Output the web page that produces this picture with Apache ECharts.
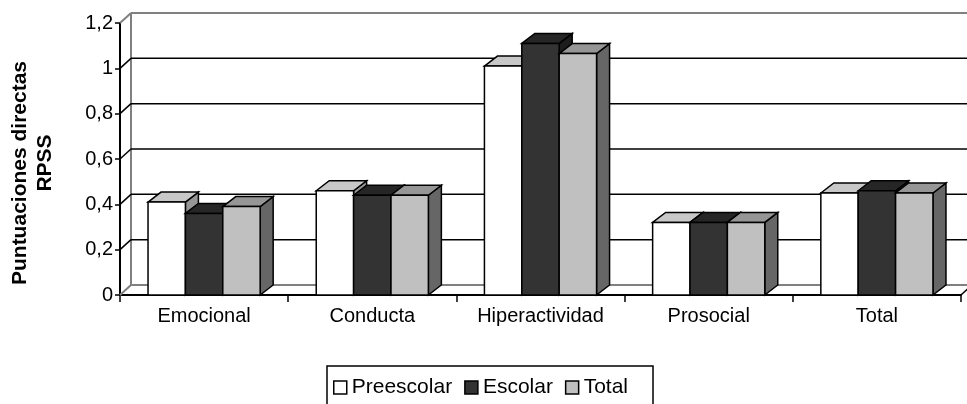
<!DOCTYPE html>
<html>
<head>
<meta charset="utf-8">
<script src="https://cdn.jsdelivr.net/npm/echarts@6/dist/echarts.min.js"></script>
<style>
  html, body { margin: 0; padding: 0; background: #fff; }
  #chart { width: 967px; height: 404px; }
</style>
</head>
<body>
<div id="chart"></div>
<script>
// Categories and mean scores per group
const categories = ['Emocional', 'Conducta', 'Hiperactividad', 'Prosocial', 'Total'];
const preescolar = [0.41, 0.46, 1.01, 0.32, 0.45];
const escolar    = [0.36, 0.44, 1.11, 0.32, 0.46];
const total      = [0.39, 0.44, 1.065, 0.32, 0.45];
const seriesNames = ['Preescolar', 'Escolar', 'Total'];
const yTicks = [0, 0.2, 0.4, 0.6, 0.8, 1, 1.2];

const FONT = '"Liberation Sans", Arial, sans-serif';
const WALL_DX = 11, WALL_DY = 10;   // back wall offset
const BAR_DX = 13, BAR_DY = 10;     // bar depth

// face colours: front, top, side
const faces = [
  ['#ffffff', '#c8c8c8', '#969696'],
  ['#333333', '#262626', '#1c1c1c'],
  ['#c0c0c0', '#969696', '#666666']
];

function barRenderer(k) {
  return function (params, api) {
    const ci = api.value(0), v = api.value(1);
    const base = api.coord([ci, 0]);
    const top = api.coord([ci, v]);
    const band = api.size([1, 0])[0];
    const bw = band / 4.5;
    const x0 = base[0] - 1.5 * bw + k * bw;
    const x1 = x0 + bw;
    const yT = top[1], yB = base[1];
    const stroke = { stroke: '#000', lineWidth: 1.5, lineJoin: 'miter' };
    const f = faces[k];
    return {
      type: 'group',
      children: [
        { type: 'polygon', shape: { points: [[x1, yT], [x1 + BAR_DX, yT - BAR_DY], [x1 + BAR_DX, yB - BAR_DY], [x1, yB]] },
          style: Object.assign({ fill: f[2] }, stroke) },
        { type: 'polygon', shape: { points: [[x0, yT], [x0 + BAR_DX, yT - BAR_DY], [x1 + BAR_DX, yT - BAR_DY], [x1, yT]] },
          style: Object.assign({ fill: f[1] }, stroke) },
        { type: 'rect', shape: { x: x0, y: yT, width: bw, height: yB - yT },
          style: Object.assign({ fill: f[0] }, stroke) }
      ]
    };
  };
}

function wallRenderer(params, api) {
  const v = api.value(1);
  const cs = params.coordSys;
  const p = api.coord([0, v]);
  const x0 = cs.x, y = p[1];
  const edge = (v === yTicks[0] || v === yTicks[yTicks.length - 1]);
  const color = edge ? '#808080' : '#000';
  const lw = edge ? 2 : 1.5;
  const children = [
    { type: 'line', shape: { x1: x0, y1: y, x2: x0 + WALL_DX, y2: y - WALL_DY }, style: { stroke: color, lineWidth: lw } },
    { type: 'line', shape: { x1: x0 + WALL_DX, y1: y - WALL_DY, x2: x0 + cs.width + WALL_DX + 10, y2: y - WALL_DY }, style: { stroke: color, lineWidth: lw } }
  ];
  if (v === yTicks[0]) {
    const yTop = api.coord([0, yTicks[yTicks.length - 1]])[1];
    children.push({ type: 'line', shape: { x1: x0 + WALL_DX, y1: y - WALL_DY, x2: x0 + WALL_DX, y2: yTop - WALL_DY }, style: { stroke: '#808080', lineWidth: 2 } });
    children.push({ type: 'line', shape: { x1: x0 + cs.width, y1: y, x2: x0 + cs.width + WALL_DX, y2: y - WALL_DY }, style: { stroke: '#000', lineWidth: 1.5 } });
  }
  return { type: 'group', children: children };
}

const groups = [preescolar, escolar, total];
const series = [{
  type: 'custom',
  name: 'wall',
  renderItem: wallRenderer,
  data: yTicks.map(v => [0, v]),
  encode: { x: 0, y: 1 },
  silent: true
}];
groups.forEach((vals, k) => {
  series.push({
    type: 'custom',
    name: seriesNames[k],
    renderItem: barRenderer(k),
    data: vals.map((v, i) => [i, v]),
    encode: { x: 0, y: 1 },
    itemStyle: { color: faces[k][0], borderColor: '#000', borderWidth: 1.5 }
  });
});

const chart = echarts.init(document.getElementById('chart'), null, { renderer: 'canvas' });
chart.setOption({
  animation: false,
  backgroundColor: '#fff',
  grid: { left: 120, top: 23, width: 841, height: 272 },
  xAxis: {
    type: 'category',
    data: categories,
    boundaryGap: true,
    axisLine: { lineStyle: { color: '#000', width: 2 } },
    axisTick: { show: true, length: 7, lineStyle: { color: '#000', width: 1.5 } },
    axisLabel: { color: '#000', fontSize: 20, fontFamily: FONT, margin: 11 },
    splitLine: { show: false }
  },
  yAxis: {
    type: 'value',
    min: 0, max: 1.2, interval: 0.2,
    axisLine: { show: true, lineStyle: { color: '#000', width: 2 } },
    axisTick: { show: true, length: 5, lineStyle: { color: '#000', width: 1.5 } },
    axisLabel: {
      color: '#000', fontSize: 20, fontFamily: FONT, margin: 7,
      formatter: v => String(Number(v.toFixed(1))).replace('.', ',')
    },
    splitLine: { show: false }
  },
  legend: {
    data: seriesNames.map((n, k) => ({
      name: n, icon: 'rect',
      itemStyle: { color: faces[k][0], borderColor: '#000', borderWidth: 1.5 }
    })),
    left: 327, top: 366,
    orient: 'horizontal',
    itemWidth: 13, itemHeight: 13, itemGap: 12,
    padding: [11, 25, 40, 6],
    borderColor: '#000', borderWidth: 1.5,
    selectedMode: false,
    textStyle: { color: '#000', fontSize: 21, fontFamily: FONT }
  },
  graphic: [
    { type: 'text', x: 20, y: 173, rotation: Math.PI / 2,
      style: { text: 'Puntuaciones directas', font: 'bold 21px ' + FONT, fill: '#000', align: 'center', verticalAlign: 'middle' } },
    { type: 'text', x: 45, y: 163, rotation: Math.PI / 2,
      style: { text: 'RPSS', font: 'bold 21px ' + FONT, fill: '#000', align: 'center', verticalAlign: 'middle' } }
  ],
  series: series
});
</script>
</body>
</html>
